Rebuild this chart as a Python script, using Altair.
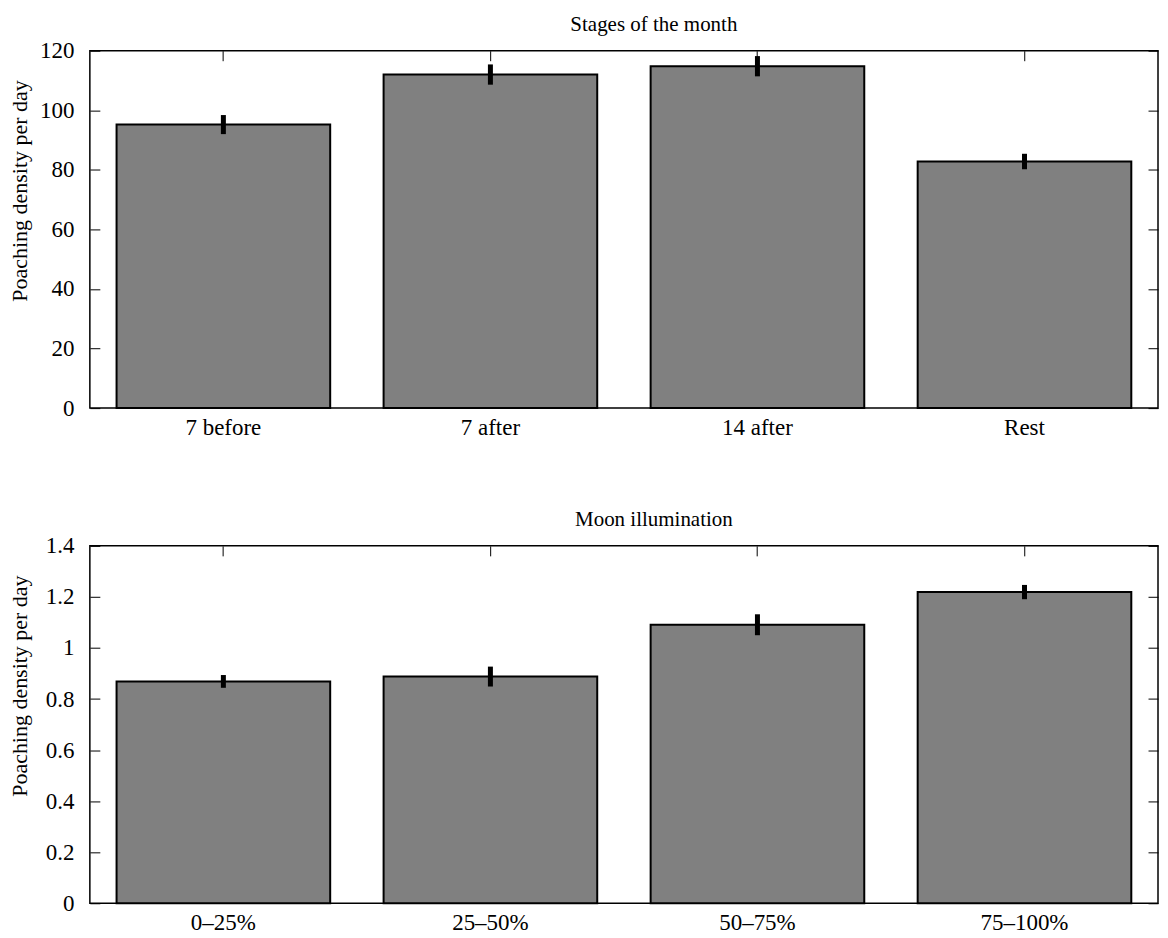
import altair as alt
import pandas as pd

# ---- data ----
stage_cats = ["7 before", "7 after", "14 after", "Rest"]
stage_vals = [95.2, 112.0, 114.8, 82.8]
stage_errs = [3.2, 3.4, 3.4, 2.6]

moon_cats = ["0–25%", "25–50%", "50–75%", "75–100%"]
moon_vals = [0.869, 0.888, 1.091, 1.219]
moon_errs = [0.025, 0.039, 0.041, 0.028]

stage_ticks = [0, 20, 40, 60, 80, 100, 120]
moon_ticks = [0, 0.2, 0.4, 0.6, 0.8, 1.0, 1.2, 1.4]

FONT = "Liberation Serif"
W, H = 1070, 358


def panel(cats, vals, errs, ymax, ticks, title):
    df = pd.DataFrame({
        "cat": cats,
        "val": vals,
        "lo": [v - e for v, e in zip(vals, errs)],
        "hi": [v + e for v, e in zip(vals, errs)],
    })
    xscale = alt.Scale(paddingInner=0.2, paddingOuter=0.1)
    yscale = alt.Scale(domain=[0, ymax], nice=False, zero=True)
    base = alt.Chart(df)
    bars = base.mark_bar(color="#808080", stroke="black", strokeWidth=2).encode(
        x=alt.X("cat:N", sort=cats, scale=xscale,
                axis=alt.Axis(orient="bottom", title=None, labelAngle=0, ticks=False,
                              domain=False, labelPadding=8)),
        y=alt.Y("val:Q", scale=yscale,
                axis=alt.Axis(orient="left", values=ticks, offset=-10, tickSize=10,
                              domain=False, labelPadding=16, format="~f",
                              title="Poaching density per day",
                              titleX=-68, titleY=140, titleAngle=270,
                              titleBaseline="bottom", titleAlign="center")),
    )
    err = base.mark_rule(color="black", strokeWidth=5).encode(
        x=alt.X("cat:N", sort=cats, scale=xscale,
                axis=alt.Axis(orient="top", title=None, labels=False, offset=-10,
                              tickSize=10, domain=False)),
        y=alt.Y("lo:Q", scale=yscale,
                axis=alt.Axis(orient="right", values=ticks, labels=False, offset=-10,
                              tickSize=10, domain=False, title=None)),
        y2="hi:Q",
    )
    return alt.layer(bars, err).resolve_scale(x="independent", y="independent").properties(
        width=W, height=H,
        title=alt.TitleParams(title, font=FONT, fontSize=21, fontWeight="normal",
                              color="black", offset=5, dx=30),
    )


top = panel(stage_cats, stage_vals, stage_errs, 120, stage_ticks, "Stages of the month")
bottom = panel(moon_cats, moon_vals, moon_errs, 1.4, moon_ticks, "Moon illumination")

chart = alt.vconcat(top, bottom, spacing=68).properties(
    padding={"left": 0, "top": 4, "right": 0, "bottom": 0}
).configure(font=FONT).configure_view(
    stroke="black", strokeWidth=1.5
).configure_axis(
    labelFont=FONT, labelFontSize=23, labelColor="black",
    titleFont=FONT, titleFontSize=22, titleFontWeight="normal", titleColor="black",
    tickColor="black", tickWidth=1, grid=False,
)

chart.save("out.html", embed_options={"renderer": "svg", "actions": False})
